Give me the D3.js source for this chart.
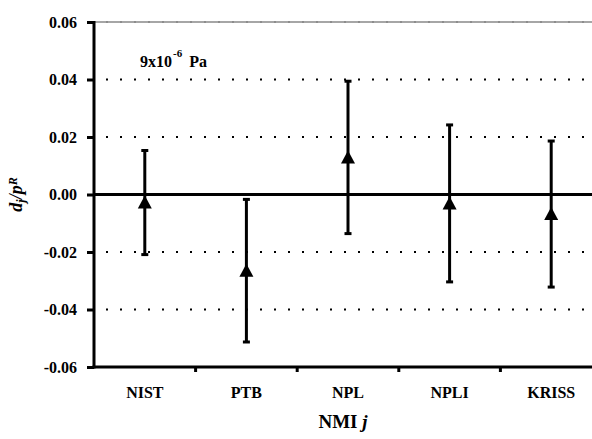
<!DOCTYPE html>
<html>
<head>
<meta charset="utf-8">
<script src="https://cdn.jsdelivr.net/npm/d3@7"></script>
<style>
  body { margin: 0; background: #fff; }
  text { font-family: "Liberation Serif", "Times New Roman", serif; font-weight: bold; }
</style>
</head>
<body>
<div id="canvas"></div>
<script>
const labs = ["NIST", "PTB", "NPL", "NPLI", "KRISS"];
const dev = [-0.0028, -0.0265, 0.0129, -0.0031, -0.0068];
const unc = [0.0181, 0.0248, 0.0265, 0.0273, 0.0254];
const yTicks = [-0.06, -0.04, -0.02, 0.00, 0.02, 0.04, 0.06];
const gridVals = [-0.04, -0.02, 0.02, 0.04];

const margin = { top: 22, right: 0, bottom: 72, left: 94 },
    width = 508,
    height = 439 - margin.top - margin.bottom;

const svg = d3.select("#canvas")
    .append("svg")
    .attr("width", 592)
    .attr("height", 439)
    .append("g")
    .attr("transform", `translate(${margin.left},${margin.top})`);

const x = d3.scaleBand()
    .domain(labs)
    .range([0, width])
    .padding(0);

const y = d3.scaleLinear()
    .domain([-0.06, 0.06])
    .range([height, 0]);

// dotted gridlines
svg.append("g")
    .selectAll("line")
    .data(gridVals)
    .join("line")
    .attr("x1", 0)
    .attr("x2", width)
    .attr("y1", d => y(d))
    .attr("y2", d => y(d))
    .attr("stroke", "#000")
    .attr("stroke-width", 2)
    .attr("stroke-dasharray", "2,12")
    .attr("stroke-dashoffset", -12);

// top border (grey) with faint dots
svg.append("line")
    .attr("x1", 0).attr("x2", width)
    .attr("y1", y(0.06)).attr("y2", y(0.06))
    .attr("stroke", "#a6a6a6")
    .attr("stroke-width", 2);
svg.append("line")
    .attr("x1", 0).attr("x2", width)
    .attr("y1", y(0.06)).attr("y2", y(0.06))
    .attr("stroke", "#8c8c8c")
    .attr("stroke-width", 2)
    .attr("stroke-dasharray", "2,12")
    .attr("stroke-dashoffset", -12);

// zero line
svg.append("line")
    .attr("x1", 0).attr("x2", width)
    .attr("y1", y(0)).attr("y2", y(0))
    .attr("stroke", "#000")
    .attr("stroke-width", 3);

// Y axis
const yAxis = svg.append("g")
    .call(d3.axisLeft(y)
        .tickValues(yTicks)
        .tickSize(7)
        .tickPadding(10)
        .tickFormat(d => d.toFixed(2)));
yAxis.select(".domain").attr("stroke-width", 3).attr("d", `M0,${height + 1.5}V${y(0.06) - 1}`);
yAxis.selectAll(".tick line").attr("stroke-width", 3);
yAxis.selectAll(".tick text")
    .style("font-size", "16px")
    .attr("fill", "#000");

// X axis
const xAxis = svg.append("g")
    .attr("transform", `translate(0,${height})`)
    .call(d3.axisBottom(x).tickSize(0).tickPadding(20));
xAxis.select(".domain").attr("stroke-width", 3).attr("d", `M-1.5,0H${width}`);
xAxis.selectAll(".tick text")
    .style("font-size", "16px")
    .attr("fill", "#000");
xAxis.selectAll("line.sep")
    .data(labs.slice(1))
    .join("line")
    .attr("class", "sep")
    .attr("x1", d => x(d)).attr("x2", d => x(d))
    .attr("y1", 0).attr("y2", 5)
    .attr("stroke", "#000")
    .attr("stroke-width", 3);

// error bars
const bars = svg.append("g")
    .selectAll("g")
    .data(labs.map((c, i) => ({ c, v: dev[i], u: unc[i] })))
    .join("g")
    .attr("transform", d => `translate(${x(d.c) + x.bandwidth() / 2},0)`);

bars.append("line")
    .attr("y1", d => y(d.v + d.u))
    .attr("y2", d => y(d.v - d.u))
    .attr("stroke", "#000")
    .attr("stroke-width", 3);
bars.selectAll("line.cap")
    .data(d => [d.v + d.u, d.v - d.u])
    .join("line")
    .attr("class", "cap")
    .attr("x1", -3.5).attr("x2", 3.5)
    .attr("y1", v => y(v)).attr("y2", v => y(v))
    .attr("stroke", "#000")
    .attr("stroke-width", 3);
bars.append("path")
    .attr("transform", d => `translate(0,${y(d.v)})`)
    .attr("d", "M0,-7L7,6L-7,6Z")
    .attr("fill", "#000");

// annotation
const note = svg.append("text")
    .attr("x", 46)
    .attr("y", 45)
    .style("font-size", "16px");
note.append("tspan").text("9x10");
note.append("tspan").attr("dy", -10).attr("dx", 1).style("font-size", "11px").text("-6");
note.append("tspan").attr("dy", 10).attr("dx", 7).text("Pa");

// axis titles
svg.append("text")
    .attr("x", width / 2 - 5)
    .attr("y", height + 61)
    .attr("text-anchor", "middle")
    .style("font-size", "19px")
    .call(t => {
        t.append("tspan").text("NMI ");
        t.append("tspan").style("font-style", "italic").text("j");
    });

svg.append("text")
    .attr("transform", `translate(${-72},${y(0)}) rotate(-90)`)
    .attr("text-anchor", "middle")
    .style("font-size", "18px")
    .style("font-style", "italic")
    .call(t => {
        t.append("tspan").text("d");
        t.append("tspan").attr("dy", 3).style("font-size", "12px").text("j");
        t.append("tspan").attr("dy", -3).text("/p");
        t.append("tspan").attr("dy", -5).style("font-size", "12px").text("R");
    });
</script>
</body>
</html>
